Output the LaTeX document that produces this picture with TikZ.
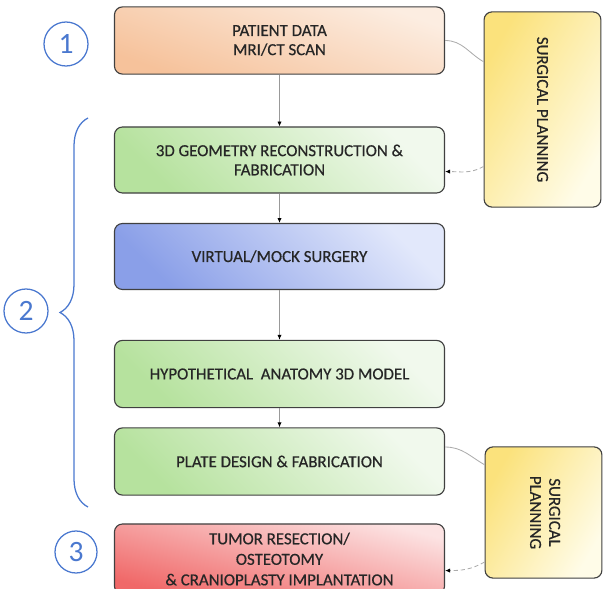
\documentclass[tikz,border=0pt]{standalone}
\usepackage{fontspec}
\setmainfont{Carlito}
\newfontfamily\boxfont{Carlito}[FakeBold=0.5]
\usetikzlibrary{arrows.meta,decorations.pathreplacing}
\definecolor{boxline}{HTML}{404040}
\definecolor{txt}{HTML}{262626}
\definecolor{numblue}{HTML}{4A78CF}
\definecolor{orangeA}{HTML}{F6C29B}
\definecolor{orangeB}{HTML}{FCEDE1}
\definecolor{greenA}{HTML}{B6E29E}
\definecolor{greenB}{HTML}{F1F9ED}
\definecolor{blueA}{HTML}{8A9FE8}
\definecolor{blueB}{HTML}{E2E8FB}
\definecolor{redA}{HTML}{F06868}
\definecolor{redB}{HTML}{FCE3E3}
\definecolor{yellowA}{HTML}{FBE27C}
\definecolor{yellowB}{HTML}{FFFCE8}
\begin{document}
\begin{tikzpicture}[x=0.025cm,y=-0.025cm,
    box/.style={draw=boxline, line width=0.8pt, rounded corners=0.2cm,
      minimum width=8.25cm, minimum height=1.65cm, align=center, text=txt,
      font=\boxfont\fontsize{12}{13.6}\selectfont},
    stage/.style={box, top color=#1A, bottom color=#1B, shading angle=135},
    plan/.style={box, top color=yellowA, bottom color=yellowB, shading angle=60,
      minimum width=2.92cm},
    num/.style={circle, draw=numblue, line width=0.9pt, minimum size=1.1cm,
      inner sep=0pt, text=numblue, font=\fontsize{21}{21}\selectfont},
    flow/.style={draw=gray!80, line width=0.6pt, -{Latex[length=3.5pt,width=3pt,color=black]}},
    link/.style={draw=gray!65, line width=0.6pt}]
  \clip (0,0) rectangle (603,589);
  \draw
    (279.5,40.5) node[stage=orange, shading angle=160, minimum height=1.68cm] (pd){PATIENT DATA\\MRI/CT SCAN}
    (279.5,160) node[stage=green] (geo){3D GEOMETRY RECONSTRUCTION \&\\FABRICATION}
    (279.5,256.5) node[stage=blue] (vms){VIRTUAL/MOCK SURGERY}
    (279.5,374) node[stage=green, minimum height=1.68cm] (hyp){HYPOTHETICAL\ \ ANATOMY 3D MODEL}
    (279.5,461.5) node[stage=green, minimum height=1.68cm] (plate){PLATE DESIGN \& FABRICATION}
    (279.5,559) node[stage=red, shading angle=165, minimum height=1.75cm,
      font=\boxfont\fontsize{12}{14.6}\selectfont] (tum){TUMOR RESECTION/\\OSTEOTOMY\\\& CRANIOPLASTY IMPLANTATION}
    (542.5,109.5) node[plan, minimum height=4.88cm] (sp1){\rotatebox{-90}{SURGICAL PLANNING}}
    (543.5,512.5) node[plan, minimum height=3.28cm] (sp2){\rotatebox{-90}{\begin{tabular}{@{}c@{}}SURGICAL\\PLANNING\end{tabular}}}
    (66,44) node[num] (n1){1}
    (26,311) node[num] (n2){2}
    (76,552) node[num, minimum size=1.05cm] (n3){3};
  % group of stage 2
  \draw[numblue, line width=0.9pt, decorate, decoration={brace, amplitude=0.7cm}]
    (88,507) -- (88,118);
  \begin{scope}
    \draw[flow] (pd) -- (geo);
    \draw[flow] (geo) -- (vms);
    \draw[flow] (vms) -- (hyp);
    \draw[flow] (hyp) -- (plate);
    \draw[link] (pd.east) to[out=0, in=150] (sp1.141);
    \draw[flow, densely dashed, draw=gray!65] (sp1.224) to[out=210, in=0] (geo.-4.5);
    \draw[link] (plate.5) to[out=0, in=150] (sp2.141);
    \draw[flow, densely dashed, draw=gray!65] (sp2.220) to[out=210, in=0] (tum.-4);
  \end{scope}
\end{tikzpicture}
\end{document}
